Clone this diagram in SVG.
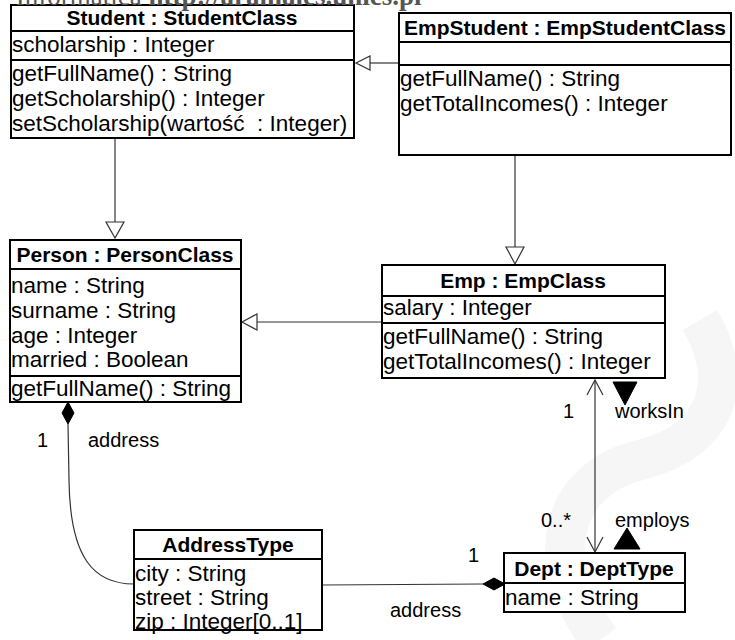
<svg xmlns="http://www.w3.org/2000/svg" width="735" height="640" viewBox="0 0 735 640">
<style>
.box{fill:#fff;stroke:#000;stroke-width:2}
.div{stroke:#000;stroke-width:2}
.t{font-family:"Liberation Sans",Arial,sans-serif;font-size:22.5px;fill:#000}
.h{font-family:"Liberation Sans",Arial,sans-serif;font-size:21px;font-weight:bold;fill:#000;text-anchor:middle}
.lbl{font-family:"Liberation Sans",Arial,sans-serif;font-size:20px;fill:#000}
.ln{fill:none;stroke:#333;stroke-width:1.2}
.gen{fill:#fff;stroke:#333;stroke-width:1.2}
.fill{fill:#000;stroke:#000}
.wm{font-family:"Liberation Serif","Times New Roman",serif;font-size:27px;fill:#555}
</style>
<rect width="735" height="640" fill="#fff"/>
<g id="watermark">
<path d="M600,640 C540,560 560,480 640,460 C720,440 735,380 700,320" fill="none" stroke="#f6f6f6" stroke-width="40"/>
</g>
<g id="connectors">
<!-- EmpStudent -> Student -->
<line class="ln" x1="399" y1="63" x2="370" y2="63"/>
<polygon class="gen" points="356,63 370,56 370,70"/>
<!-- Student -> Person -->
<line class="ln" x1="115" y1="138" x2="115" y2="222"/>
<polygon class="gen" points="115,238 106,222 124,222"/>
<!-- EmpStudent -> Emp -->
<line class="ln" x1="515" y1="155" x2="515" y2="247"/>
<polygon class="gen" points="515,264 506,247 524,247"/>
<!-- Emp -> Person -->
<line class="ln" x1="382" y1="322" x2="257" y2="322"/>
<polygon class="gen" points="242,322 257,314 257,330"/>
<!-- Emp <-> Dept -->
<line class="ln" x1="595" y1="380" x2="595" y2="553"/>
<polyline class="ln" points="587,395 595,380 603,395"/>
<polyline class="ln" points="587,537 595,552 603,537"/>
<polygon class="fill" points="613,382 637,382 625,405"/>
<polygon class="fill" points="614,549 640,549 627,528"/>
<text class="lbl" x="563" y="418">1</text>
<text class="lbl" x="615" y="418">worksIn</text>
<text class="lbl" x="541" y="527">0..*</text>
<text class="lbl" x="615" y="527">employs</text>
<!-- Person <>- AddressType -->
<path class="ln" d="M68,424 L69,480 C70,560 95,584 134,584"/>
<polygon class="fill" points="68,402 74,413 68,424 62,413"/>
<text class="lbl" x="37" y="447">1</text>
<text class="lbl" x="88" y="447">address</text>
<!-- AddressType -<> Dept -->
<line class="ln" x1="322" y1="585" x2="483" y2="584"/>
<polygon class="fill" points="483,584 494,578 505,584 494,590"/>
<text class="lbl" x="468" y="562">1</text>
<text class="lbl" x="390" y="617">address</text>
</g>
<g id="Student">
<rect class="box" x="11" y="5" width="343" height="133"/>
<line class="div" x1="11" y1="31" x2="354" y2="31"/>
<line class="div" x1="11" y1="60" x2="354" y2="60"/>
<text class="h" x="182" y="25">Student : StudentClass</text>
<text class="t" x="12" y="52">scholarship : Integer</text>
<text class="t" x="12" y="81">getFullName() : String</text>
<text class="t" x="12" y="106">getScholarship() : Integer</text>
<text class="t" x="12" y="131" xml:space="preserve">setScholarship(wartość&#160; : Integer)</text>
</g>
<g id="EmpStudent">
<rect class="box" x="399" y="13" width="332" height="142"/>
<line class="div" x1="399" y1="42" x2="731" y2="42"/>
<line class="div" x1="399" y1="65" x2="731" y2="65"/>
<text class="h" x="565" y="35">EmpStudent : EmpStudentClass</text>
<text class="t" x="400" y="86">getFullName() : String</text>
<text class="t" x="400" y="111">getTotalIncomes() : Integer</text>
</g>
<g id="Person">
<rect class="box" x="10" y="240" width="231" height="162"/>
<line class="div" x1="10" y1="269" x2="241" y2="269"/>
<line class="div" x1="10" y1="376" x2="241" y2="376"/>
<text class="h" x="125" y="262">Person : PersonClass</text>
<text class="t" x="11" y="293">name : String</text>
<text class="t" x="11" y="318">surname : String</text>
<text class="t" x="11" y="343">age : Integer</text>
<text class="t" x="11" y="367">married : Boolean</text>
<text class="t" x="11" y="396">getFullName() : String</text>
</g>
<g id="Emp">
<rect class="box" x="382" y="265" width="283" height="113"/>
<line class="div" x1="382" y1="296" x2="665" y2="296"/>
<line class="div" x1="382" y1="323" x2="665" y2="323"/>
<text class="h" x="523" y="288">Emp : EmpClass</text>
<text class="t" x="383" y="315">salary : Integer</text>
<text class="t" x="383" y="344">getFullName() : String</text>
<text class="t" x="383" y="369">getTotalIncomes() : Integer</text>
</g>
<g id="AddressType">
<rect class="box" x="134" y="530" width="188" height="100"/>
<line class="div" x1="134" y1="559" x2="322" y2="559"/>
<text class="h" x="228" y="552">AddressType</text>
<text class="t" x="135" y="581">city : String</text>
<text class="t" x="135" y="605">street : String</text>
<text class="t" x="135" y="629">zip : Integer[0..1]</text>
</g>
<g id="Dept">
<rect class="box" x="504" y="553" width="181" height="59"/>
<line class="div" x1="504" y1="583" x2="685" y2="583"/>
<text class="h" x="594" y="576">Dept : DeptType</text>
<text class="t" x="505" y="605">name : String</text>
</g>
<text class="wm" x="0" y="5">- Informatica <tspan font-weight="bold">http://aramales.unics.pl</tspan></text>
</svg>
